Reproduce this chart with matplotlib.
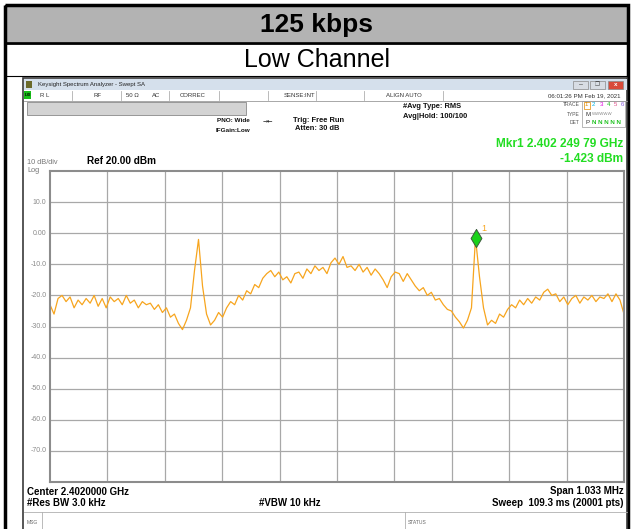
import numpy as np
import matplotlib
matplotlib.use("Agg")
import matplotlib.pyplot as plt
from matplotlib.patches import Rectangle

plt.rcParams["font.family"] = ["Liberation Sans", "DejaVu Sans"]

# ---- data ----
center_ghz = 2.402
span_mhz = 1.033
ref_level = 20.0
db_per_div = 10.0
y_tick_vals = [10, 0, -10, -20, -30, -40, -50, -60, -70]
y_tick_text = ["10.0", "0.00", "-10.0", "-20.0", "-30.0", "-40.0", "-50.0", "-60.0", "-70.0"]

# trace level (dBm), sampled evenly across the span
trace_dbm = [
    -23, -26, -21, -20, -22, -20.5, -24, -21.5, -23, -21,
    -22.5, -20, -23.5, -21, -24, -20.5, -22, -21, -23, -20,
    -22.5, -21.5, -24, -22, -23, -22.5, -24.5, -23, -25.5, -24,
    -27, -26, -29, -31, -28, -24, -12, -2.0, -17, -26,
    -29.5, -28, -25.5, -27, -24, -22, -23, -20, -21.5, -18.5,
    -19.5, -16.5, -17.5, -14.5, -13, -12, -14, -12.5, -15, -14,
    -16, -13, -12.5, -14.5, -11.5, -13, -10.5, -12, -11, -13,
    -9.5, -8, -10, -7.5, -11, -10.5, -12, -10, -12.5, -11,
    -13.5, -11.5, -13, -15, -17.5, -14, -12.5, -13, -15.5, -13,
    -15, -17, -18.5, -17.5, -20, -19, -21.5, -21, -23, -24.5,
    -25, -27, -28.5, -30.5, -28, -24, -1.5, -14, -24, -29.5,
    -28, -29, -26, -27, -24.5, -23, -24, -21.5, -23, -21,
    -22.5, -20.5, -21.5, -19, -18, -20, -19.5, -22, -20.5, -23,
    -21, -20, -22.5, -20.5, -21.5, -20, -22, -20.5, -21, -19.5,
    -22, -19.5, -21.5, -26,
]
marker_ghz = 2.40224979
marker_dbm = -1.423

W, H = 631, 529
fig = plt.figure(figsize=(W / 100, H / 100), dpi=100)

# background layer in pixel coordinates
bg = fig.add_axes([0, 0, 1, 1])
bg.set_xlim(0, W)
bg.set_ylim(H, 0)
bg.axis("off")


def box(x0, y0, x1, y1, **kw):
    bg.add_patch(Rectangle((x0, y0), x1 - x0, y1 - y0, **kw))


def txt(x, y, s, **kw):
    kw.setdefault("va", "center")
    bg.text(x, y, s, **kw)


# outer table frame
box(5, 5, 628, 42, facecolor="#b3b3b3", edgecolor="none")
box(5, 5, 628, 540, facecolor="none", edgecolor="black", linewidth=2.5)
bg.plot([5, 628], [42.5, 42.5], color="black", lw=2)
bg.plot([5, 628], [75.5, 75.5], color="black", lw=0.8)
txt(317, 25, "125 kbps", ha="center", fontsize=19, fontweight="bold")
txt(317, 60, "Low Channel", ha="center", fontsize=18)

# analyzer window
box(23, 78, 627, 540, facecolor="white", edgecolor="#3a3a3a", linewidth=1.2)
box(24, 79, 627, 90, facecolor="#d5e0ec", edgecolor="none")
box(26, 81, 32, 88, facecolor="#6b6a2a", edgecolor="none")
txt(38, 84.5, "Keysight Spectrum Analyzer - Swept SA", fontsize=4.3, color="#222222")
for bx, col in [(573, "#d8dde4"), (590, "#d8dde4"), (608, "#d94b3b")]:
    box(bx, 81, bx + 15, 89, facecolor=col, edgecolor="#8a8a8a", linewidth=0.5)
txt(580.5, 85, "\u2013", ha="center", fontsize=5, color="#444444")
txt(597.5, 85, "\u2750", ha="center", fontsize=4, color="#444444", family="DejaVu Sans")
txt(615.5, 85, "x", ha="center", fontsize=4.5, color="white", fontweight="bold")

# status row
bg.plot([24, 627], [100.5, 100.5], color="#9a9a9a", lw=0.6)
box(24, 91, 31, 99, facecolor="#18c018", edgecolor="none")
txt(25, 95.5, "LXI", fontsize=3, color="black", fontweight="bold")
for sx, s in [(40, "R L"), (94, "RF"), (126, "50 \u03a9"), (152, "AC"), (180, "CORREC"),
              (284, "SENSE:INT"), (386, "ALIGN AUTO")]:
    txt(sx, 95.5, s, fontsize=4.3, color="#333333")
for sx in [72, 121, 169, 219, 268, 316, 364, 443]:
    bg.plot([sx, sx], [91, 100], color="#b0b0b0", lw=0.6)
txt(621, 95.5, "06:01:26 PM Feb 19, 2021", ha="right", fontsize=4.4, color="#333333")

# settings area
box(27, 102, 246, 115, facecolor="#d3d3d3", edgecolor="#8a8a8a", linewidth=0.6)
txt(217, 121, "PNO: Wide", fontsize=4.6, color="#111111", fontweight="bold")
txt(216, 130, "IFGain:Low", fontsize=4.6, color="#111111", fontweight="bold")
txt(263, 121, "\u2192\u2190", fontsize=4.5, color="#111111", family="DejaVu Sans")
txt(293, 120, "Trig: Free Run", fontsize=5.4, color="#111111", fontweight="bold")
txt(295, 128, "Atten: 30 dB", fontsize=5.4, color="#111111", fontweight="bold")
txt(403, 107, "#Avg Type: RMS", fontsize=5.4, color="#111111", fontweight="bold")
txt(403, 117, "Avg|Hold: 100/100", fontsize=5.4, color="#111111", fontweight="bold")

# trace info box
box(582, 101, 625, 127, facecolor="white", edgecolor="#9a9a9a", linewidth=0.5)
txt(580, 105, "TRACE", ha="right", fontsize=3.6, color="#555555")
txt(580, 114, "TYPE", ha="right", fontsize=3.6, color="#555555")
txt(580, 122, "DET", ha="right", fontsize=3.6, color="#555555")
trace_cols = ["#e08a00", "#00b4e0", "#e000e0", "#18c018", "#e0508a", "#8a5ae0"]
for k, c in enumerate(trace_cols):
    txt(585 + 7.2 * k, 105, str(k + 1), fontsize=4.4, color=c)
box(583.5, 101.5, 590, 109, facecolor="none", edgecolor="#e08a00", linewidth=0.5)
txt(585, 114, "M", fontsize=4.4, color="#333333")
txt(592, 114, "WWWWW", fontsize=3.2, color="#888888")
txt(585, 122, "P", fontsize=4.4, color="#333333")
txt(592, 122, "N N N N N", fontsize=4.4, color="#18c018", fontweight="bold")

# marker readout
txt(623, 144, "Mkr1 2.402 249 79 GHz", ha="right", fontsize=8.6, color="#22dd22", fontweight="bold")
txt(623, 159, "-1.423 dBm", ha="right", fontsize=8.6, color="#22dd22", fontweight="bold")

txt(27, 162, "10 dB/div", fontsize=5.3, color="#777777")
txt(27, 170, "Log", fontsize=5.3, color="#777777")
txt(87, 161, "Ref 20.00 dBm", fontsize=7.2, color="black", fontweight="bold")

# bottom annotations
txt(27, 492, "Center 2.4020000 GHz", fontsize=7, fontweight="bold")
txt(27, 503, "#Res BW 3.0 kHz", fontsize=7, fontweight="bold")
txt(290, 503, "#VBW 10 kHz", ha="center", fontsize=7, fontweight="bold")
txt(624, 491, "Span 1.033 MHz", ha="right", fontsize=7, fontweight="bold")
txt(624, 503, "Sweep  109.3 ms (20001 pts)", ha="right", fontsize=7, fontweight="bold")
bg.plot([24, 627], [512, 512], color="#b0b0b0", lw=0.6)
txt(27, 522, "MSG", fontsize=3.6, color="#666666")
bg.plot([42, 42], [512, 529], color="#b0b0b0", lw=0.6)
txt(408, 522, "STATUS", fontsize=3.6, color="#666666")
bg.plot([405, 405], [512, 529], color="#b0b0b0", lw=0.6)

# ---- spectrum plot ----
x0, x1, y0, y1 = 50, 624, 171, 482
ax = fig.add_axes([x0 / W, 1 - y1 / H, (x1 - x0) / W, (y1 - y0) / H])
f_start = center_ghz - span_mhz / 2000
f_stop = center_ghz + span_mhz / 2000
freqs = np.linspace(f_start, f_stop, len(trace_dbm))
ax.set_xlim(f_start, f_stop)
ax.set_ylim(ref_level - 10 * db_per_div, ref_level)
ax.set_xticks(np.linspace(f_start, f_stop, 11)[1:-1])
ax.set_yticks(y_tick_vals)
ax.grid(True, color="#a8a8a8", linewidth=0.9)
ax.tick_params(length=0, labelbottom=False, labelleft=False)
for sp in ax.spines.values():
    sp.set_color("#8c8c8c")
    sp.set_linewidth(1.5)
for v, s in zip(y_tick_vals, y_tick_text):
    ax.text(-0.006, v, s, transform=ax.get_yaxis_transform(), ha="right", va="center",
            fontsize=5, color="#8a8a8a")

ax.plot(freqs, trace_dbm, color="#f7a51e", linewidth=0.9)
diamond = [(0, 1), (0.6, 0), (0, -1), (-0.6, 0), (0, 1)]
ax.plot([marker_ghz], [marker_dbm], marker=diamond, markersize=13, color="#19d219",
        markeredgecolor="#3c5a3c", markeredgewidth=0.7, zorder=5)
ax.annotate("1", (marker_ghz, marker_dbm), xytext=(4, 5), textcoords="offset points",
            fontsize=6.5, color="#f7a51e")

fig.savefig("out.png", dpi=100)
